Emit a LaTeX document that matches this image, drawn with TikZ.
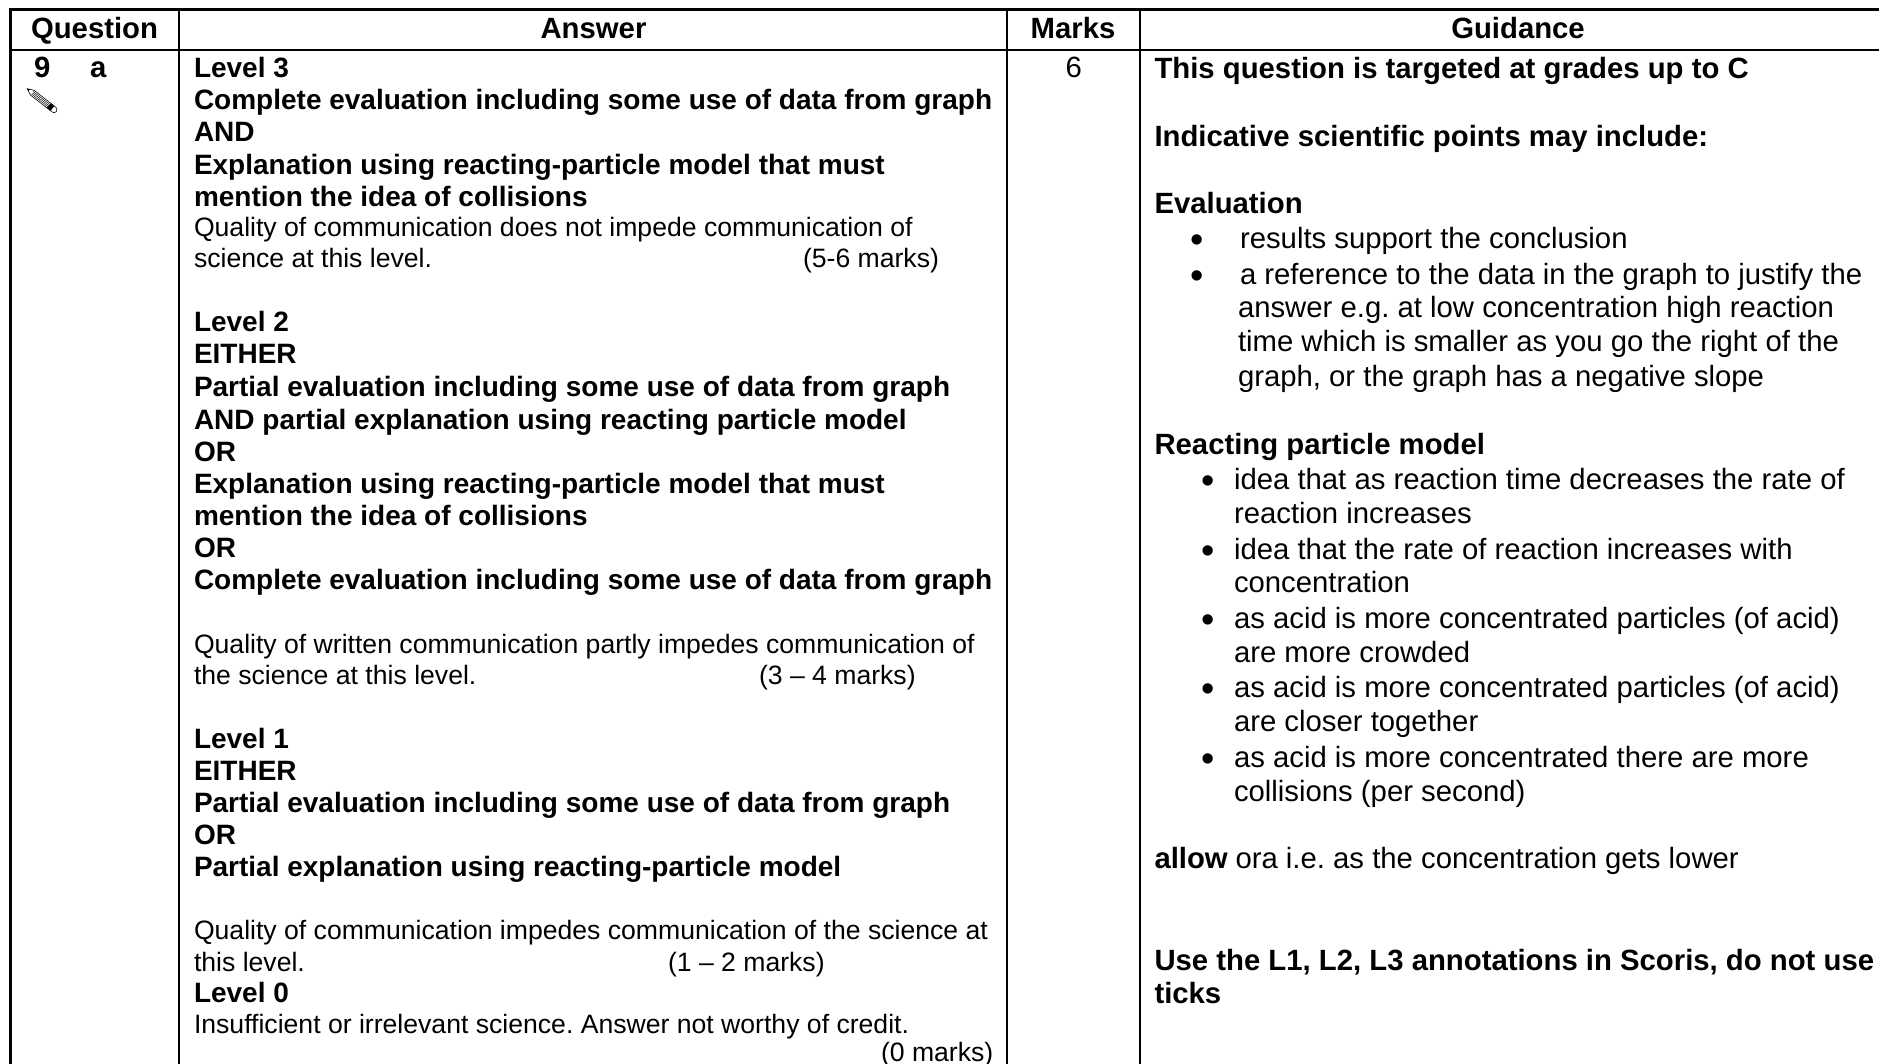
\documentclass[tikz,border=0pt]{standalone}
\usepackage{fontspec}
\setmainfont{Liberation Sans}
\newcounter{tln}
\newcommand{\fA}{\fontsize{26.6pt}{32pt}\selectfont}
\newcommand{\fB}{\fontsize{28pt}{32pt}\selectfont\bfseries}
\newcommand{\fG}{\fontsize{29.3pt}{32pt}\selectfont}
\newcommand{\fH}{\fontsize{29.3pt}{32pt}\selectfont\bfseries}
\tikzset{
  rule/.style={line width=2.6pt,line cap=rect,black},
  base/.style={anchor=base west,inner sep=0pt,outer sep=0pt,text=black},
  atxt/.style={base,font=\fA},
  btxt/.style={base,font=\fB},
  gtxt/.style={base,font=\fG},
  htxt/.style={base,font=\fH},
  bul/.style={base,font=\fontsize{38pt}{38pt}\selectfont},
  head/.style={anchor=base,inner sep=0pt,outer sep=0pt,text=black,font=\fH}
}
\newcommand{\lnA}[3]{\stepcounter{tln}\node[atxt] (n\arabic{tln}) at (#1,#2) {\frenchspacing #3};}
\newcommand{\lnB}[3]{\stepcounter{tln}\node[btxt] (n\arabic{tln}) at (#1,#2) {\frenchspacing #3};}
\newcommand{\lnG}[3]{\stepcounter{tln}\node[gtxt] (n\arabic{tln}) at (#1,#2) {\frenchspacing #3};}
\newcommand{\lnH}[3]{\stepcounter{tln}\node[htxt] (n\arabic{tln}) at (#1,#2) {\frenchspacing #3};}
\newcommand{\lnU}[2]{\stepcounter{tln}\node[bul] (n\arabic{tln}) at (#1,#2) {•};}
\begin{document}
\begin{tikzpicture}[x=1pt,y=-1pt]
\useasboundingbox (0,0) rectangle (1879,1064);
% rules
\draw[rule] (1881,9.5) -- (10.5,9.5) -- (10.5,1070);
\draw[rule] (10.5,50) -- (1881,50);
\draw[rule] (179,9.5) -- (179,1070);
\draw[rule] (1007,9.5) -- (1007,1070);
\draw[rule] (1140,9.5) -- (1140,1070);
% headers
\node[head] (hq) at (94.5,39) {Question};
\node[head] (ha) at (593.5,39) {Answer};
\node[head] (hm) at (1073,39) {Marks};
\node[head] (hg) at (1518,39) {Guidance};
% question
\lnH{34}{78}{9}
\lnH{90}{78}{a}
% pencil
\begin{scope}[shift={(41,99.5)},rotate=-38]
\draw[black,line width=.6pt,fill=white] (-11,-3) -- (16.5,-3) arc[start angle=-90,end angle=90,radius=3] -- (-11,3) -- (-17.5,0) -- cycle;
\fill[black] (10,-3) rectangle (14.5,3);
\fill[black] (-17.5,0) -- (-15,-1.2) -- (-15,1.2) -- cycle;
\draw[black,line width=.45pt] (-11,-1.5) -- (10,-1.5) (-11,0) -- (10,0) (-11,1.5) -- (10,1.5);
\end{scope}
% answer
\lnB{194}{78}{Level 3}
\lnB{194}{110}{Complete evaluation including some use of data from graph}
\lnB{194}{142}{AND}
\lnB{194}{174.5}{Explanation using reacting-particle model that must}
\lnB{194}{206.5}{mention the idea of collisions}
\lnA{194}{237}{Quality of communication does not impede communication of}
\lnA{194}{268}{science at this level.}
\lnA{803}{268}{(5-6 marks)}
\lnB{194}{332}{Level 2}
\lnB{194}{364}{EITHER}
\lnB{194}{396.5}{Partial evaluation including some use of data from graph}
\lnB{194}{429}{AND partial explanation using reacting particle model}
\lnB{194}{461}{OR}
\lnB{194}{493}{Explanation using reacting-particle model that must}
\lnB{194}{525.5}{mention the idea of collisions}
\lnB{194}{557}{OR}
\lnB{194}{589}{Complete evaluation including some use of data from graph}
\lnA{194}{653}{Quality of written communication partly impedes communication of}
\lnA{194}{684}{the science at this level.}
\lnA{759}{684}{(3 – 4 marks)}
\lnB{194}{748}{Level 1}
\lnB{194}{780}{EITHER}
\lnB{194}{812}{Partial evaluation including some use of data from graph}
\lnB{194}{844}{OR}
\lnB{194}{876}{Partial explanation using reacting-particle model}
\lnA{194}{939}{Quality of communication impedes communication of the science at}
\lnA{194}{971}{this level.}
\lnA{668}{971}{(1 – 2 marks)}
\lnB{194}{1002}{Level 0}
\lnA{194}{1033}{Insufficient or irrelevant science. Answer not worthy of credit.}
\lnA{881}{1061.5}{(0 marks)}
% marks
\lnG{1065.5}{78}{6}
% guidance
\lnH{1154.5}{78.5}{This question is targeted at grades up to C}
\lnH{1154.5}{146.5}{Indicative scientific points may include:}
\lnH{1154.5}{213.5}{Evaluation}
\lnU{1190}{253}
\lnG{1240}{248.5}{results support the conclusion}
\lnU{1190}{289}
\lnG{1240}{285}{a reference to the data in the graph to justify the}
\lnG{1238}{318}{answer e.g. at low concentration high reaction}
\lnG{1238}{352}{time which is smaller as you go the right of the}
\lnG{1238}{386}{graph, or the graph has a negative slope}
\lnH{1154.5}{454}{Reacting particle model}
\lnU{1201}{493.5}
\lnG{1234}{489}{idea that as reaction time decreases the rate of}
\lnG{1234}{523}{reaction increases}
\lnU{1201}{563.5}
\lnG{1234}{559}{idea that the rate of reaction increases with}
\lnG{1234}{592}{concentration}
\lnU{1201}{632.5}
\lnG{1234}{628}{as acid is more concentrated particles (of acid)}
\lnG{1234}{662}{are more crowded}
\lnU{1201}{701.5}
\lnG{1234}{697}{as acid is more concentrated particles (of acid)}
\lnG{1234}{731}{are closer together}
\lnU{1201}{771.5}
\lnG{1234}{767}{as acid is more concentrated there are more}
\lnG{1234}{801}{collisions (per second)}
\lnH{1154.5}{868}{allow}
\lnG{1235.5}{868}{ora i.e. as the concentration gets lower}
\lnH{1154.5}{970}{Use the L1, L2, L3 annotations in Scoris, do not use}
\lnH{1154.5}{1003}{ticks}
\end{tikzpicture}
\end{document}
